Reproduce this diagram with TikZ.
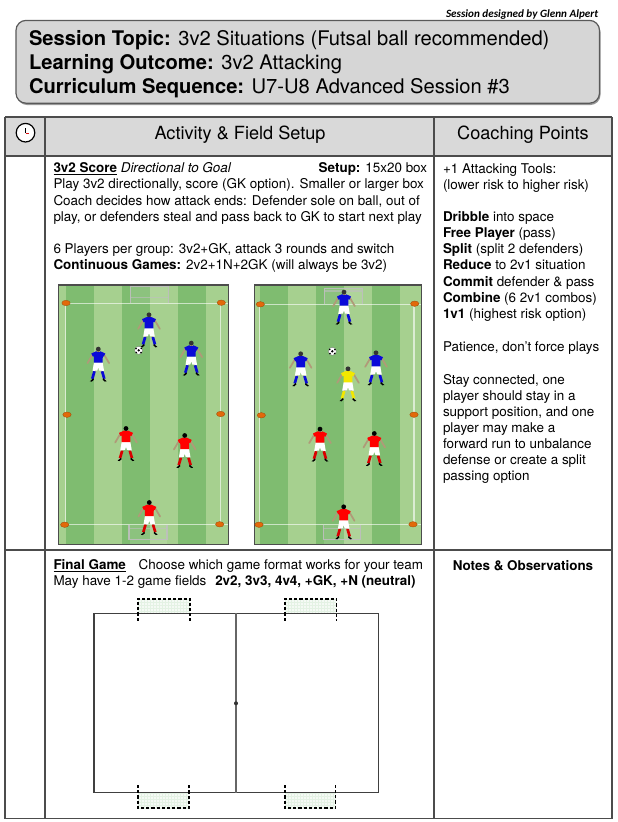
\documentclass[tikz,border=0pt]{standalone}
\usepackage{fontspec}
\setmainfont{TeX Gyre Heros}
\newfontfamily\calib{Carlito}
\definecolor{fdark}{HTML}{7FBC70}
\definecolor{flight}{HTML}{A6D08F}
\definecolor{conec}{HTML}{E2690A}
\definecolor{skin}{HTML}{B09A78}
\definecolor{hdr}{HTML}{D9D9D9}
\definecolor{tbox}{HTML}{D6D6D6}
\definecolor{rline}{HTML}{E01010}
\definecolor{bshirt}{HTML}{0A0AD8}
\definecolor{yshirt}{HTML}{F2E800}
\definecolor{netfill}{HTML}{F5FAF5}
\definecolor{netgrid}{HTML}{E4F2E4}
\newcommand\fsz[1]{\fontsize{#1}{#1}\selectfont}
\tikzset{
 tline/.style={draw=black!70,line width=.9pt},
 body/.style={anchor=base west,inner sep=0pt,outer sep=0pt,font=\fsz{10.08}},
 titletx/.style={anchor=base west,inner sep=0pt,outer sep=0pt,font=\fsz{15.12}},
 head/.style={anchor=base,inner sep=0pt,outer sep=0pt,font=\fsz{13.6}},
 fline/.style={draw=white,opacity=.6,line width=1pt},
 glines/.style={draw=black!25,line width=1pt,opacity=.9},
 fgoal/.style={draw=black,line width=1.2pt,dash pattern=on 2.4pt off 1.5pt},
}
\newcommand\cone[2]{\fill[conec,draw=conec!70!black,line width=.25pt] (#1,#2) ellipse (4.2 and 2.7);}
\newcommand\ball[2]{\begin{scope}[shift={(#1,#2)}]
 \fill[white,draw=black!60,line width=.2pt] (0,0) circle (4);
 \fill[black] (0,0) circle (1.3);
 \fill[black] (-2.6,-1.8) circle (.9) (2.6,-1.8) circle (.9) (-2.4,2.2) circle (.9) (2.4,2.2) circle (.9);
\end{scope}}
\newcommand\player[5]{\begin{scope}[shift={(#1,#2)}]
 \draw[skin,line width=1.3pt,line cap=round] (-5,4) -- (-10.8,13.8);
 \draw[skin,line width=1.3pt,line cap=round] (5,4) -- (10.8,13.8);
 \draw[skin,line width=1.2pt] (-3.5,21) -- (-4.5,24);
 \draw[skin,line width=1.2pt] (3.5,21) -- (4.5,24);
 \draw[#4,line width=2pt] (-3.8,22) -- (-6,29.5);
 \draw[#4,line width=2pt] (3.8,22) -- (6,29.5);
 \fill[black] (-8.4,32) -- (-5,29) -- (-4.4,30.5) -- (-6.5,32.3) -- cycle;
 \fill[black] (8.4,32) -- (5,29) -- (4.4,30.5) -- (6.5,32.3) -- cycle;
 \fill[white] (-4.3,13) -- (4.3,13) -- (5.8,21.7) -- (1,21.2) -- (0,18) -- (-1,21.2) -- (-5.8,21.7) -- cycle;
 \fill[#3] (-7,4.2) -- (-2.2,2) -- (2.2,2) -- (7,4.2) -- (5.4,7.4) -- (4.5,6.8) -- (4.3,13.3) -- (-4.3,13.3) -- (-4.5,6.8) -- (-5.4,7.4) -- cycle;
 \fill[skin] (-1.5,.8) rectangle (1.5,2.4);
 \fill[#5] (0,-.2) circle (2.4);
\end{scope}}
% goal in a field: x0 x1 mouth back inner-bar
\newcommand\fieldgoal[5]{%
 \fill[white,opacity=.10] (#1,#3) rectangle (#2,#4);
 \draw[glines] (#1,#3) -- (#1,#4) -- (#2,#4) -- (#2,#3);
 \draw[glines,opacity=.6] (#1,#5) -- (#2,#5);
}
\newcommand\stripes[8]{%
 \fill[flight] (#1,285) rectangle (#8,544.3);
 \fill[fdark] (#2,285) rectangle (#3,544.3);
 \fill[fdark] (#4,285) rectangle (#5,544.3);
 \fill[fdark] (#6,285) rectangle (#7,544.3);
}
% net of the final game goals: x0 y0 x1 y1
\newcommand\netbox[4]{%
 \fill[netfill] (#1,#2) rectangle (#3,#4);
 \begin{scope}
 \clip (#1,#2) rectangle (#3,#4);
 \foreach \k in {0,3,...,54} {\draw[netgrid,line width=.3pt] (#1+\k,#2) -- (#1+\k,#4);}
 \foreach \k in {0,3,...,18} {\draw[netgrid,line width=.3pt] (#1,#2+\k) -- (#3,#2+\k);}
 \end{scope}
}
\begin{document}
\begin{tikzpicture}[x=0.75pt,y=-0.75pt]
\useasboundingbox (0,0) rectangle (618,822);
\fill[white] (0,0) rectangle (618,822);
\node[anchor=base east,inner sep=0pt,font=\calib\bfseries\itshape\fsz{8.35}] (credit) at (598.5,17.3) {Session designed by Glenn Alpert};
\fill[black!40,rounded corners=7.5] (17,22) rectangle (600.5,105);
\draw[draw=black!65,fill=tbox,line width=.9pt,rounded corners=7.5] (16,20.4) rectangle (599.5,103.2);
\node[titletx] (t1) at (29,45.2) {\textbf{Session Topic:} 3v2 Situations (Futsal ball recommended)};
\node[titletx] (t2) at (29,69.2) {\textbf{Learning Outcome:} 3v2 Attacking};
\node[titletx] (t3) at (29,93.4) {\textbf{Curriculum Sequence:} U7-U8 Advanced Session \#3};
\fill[hdr] (5,117) rectangle (612,156);
\draw[tline] (5,117) -- (612,117) (5,156) -- (612,156) (5,550) -- (612,550) (5,818.5) -- (612,818.5);
\draw[tline] (5,117) -- (5,818.5) (45,117) -- (45,818.5) (434,117) -- (434,818.5) (612,117) -- (612,818.5);
\draw[black,fill=white,line width=.9pt] (25.5,132.7) circle (9.3);
\draw[black,line width=.7pt] (25.5,128) -- (25.5,133);
\draw[rline,line width=.7pt] (25.5,133) -- (29,133);
\node[head] (h1) at (240,139.3) {Activity \& Field Setup};
\node[head] (h2) at (523,139.3) {Coaching Points};
\node[body] (a1) at (53.5,172.7) {\textbf{\underline{3v2 Score}} \textit{Directional to Goal}};
\node[body] (a1b) at (318.7,172.7) {\textbf{Setup:} 15x20 box};
\node[body] (a2) at (53.5,188.9) {Play 3v2 directionally, score (GK option). Smaller or larger box};
\node[body] (a3) at (53.5,205.1) {Coach decides how attack ends: Defender sole on ball, out of};
\node[body] (a4) at (53.5,221.3) {play, or defenders steal and pass back to GK to start next play};
\node[body] (a5) at (53.5,253.7) {6 Players per group: 3v2+GK, attack 3 rounds and switch};
\node[body] (a6) at (53.5,269.9) {\textbf{Continuous Games:} 2v2+1N+2GK (will always be 3v2)};
\node[body] (c1) at (443,173.3) {+1 Attacking Tools:};
\node[body] (c2) at (443,189.3) {(lower risk to higher risk)};
\node[body] (c3) at (443,221.7) {\textbf{Dribble} into space};
\node[body] (c4) at (443,237.7) {\textbf{Free Player} (pass)};
\node[body] (c5) at (443,253.7) {\textbf{Split} (split 2 defenders)};
\node[body] (c6) at (443,269.9) {\textbf{Reduce} to 2v1 situation};
\node[body] (c7) at (443,286) {\textbf{Commit} defender \& pass};
\node[body] (c8) at (443,302) {\textbf{Combine} (6 2v1 combos)};
\node[body] (c9) at (443,318.2) {\textbf{1v1} (highest risk option)};
\node[body] (c10) at (443,351.7) {Patience, don’t force plays};
\node[body] (c11) at (443,384) {Stay connected, one};
\node[body] (c12) at (443,400) {player should stay in a};
\node[body] (c13) at (443,416) {support position, and one};
\node[body] (c14) at (443,432) {player may make a};
\node[body] (c15) at (443,448.2) {forward run to unbalance};
\node[body] (c16) at (443,464.2) {defense or create a split};
\node[body] (c17) at (443,480.2) {passing option};
\stripes{58.3}{66}{94}{122}{150.3}{178.3}{206.3}{228.7}
\fieldgoal{130.4}{168.4}{302.7}{286.7}{297.7}
\draw[fline] (66,303.3) -- (228,303.3) (65.7,303.3) -- (65.7,524.7) (220.3,303.3) -- (220.3,524.7) (65.7,524.7) -- (228,524.7);
\fill[white,opacity=.12] (129.5,539) rectangle (166.5,544);
\fieldgoal{129}{167}{524.5}{539.3}{528.3}
\draw[black!70,line width=1pt] (58.3,285) rectangle (228.7,544.3);
\cone{66}{303}\cone{221.3}{302.7}\cone{67}{414.7}\cone{220.7}{414}\cone{64.7}{524.7}\cone{219.7}{524.3}
\player{149}{315}{bshirt}{bshirt}{black!80}
\player{98.3}{349.3}{bshirt}{bshirt}{black!80}
\player{191.3}{343.3}{bshirt}{bshirt}{black!80}
\player{126}{428.7}{red}{red!85!black}{black}
\player{184.7}{435.7}{red}{red!85!black}{black}
\player{149.3}{502.7}{red}{red!85!black}{black}
\ball{138.7}{350.3}
\stripes{254.3}{260}{288}{315.7}{344}{371.7}{400}{421.7}
\fieldgoal{324.3}{362.3}{303.5}{288.3}{291}
\draw[fline] (260,304.7) -- (421,304.7) (259.7,304.7) -- (259.7,524.7) (414,304.7) -- (414,524.7) (259.7,524.7) -- (421,524.7);
\fill[white,opacity=.12] (323.5,539) rectangle (360,544);
\fieldgoal{323.3}{360.3}{524.5}{539.3}{528.3}
\draw[black!70,line width=1pt] (254.3,285) rectangle (421.7,544.3);
\cone{260.3}{304.3}\cone{414.7}{303.7}\cone{261.3}{415.3}\cone{414}{414.7}\cone{259}{524.7}\cone{413}{524.3}
\player{344}{292.3}{bshirt}{bshirt}{black!80}
\player{300.7}{354}{bshirt}{bshirt}{black!80}
\player{376}{353}{bshirt}{bshirt}{black!80}
\player{348}{369}{yshirt}{yshirt}{black!80}
\player{320}{429.3}{red}{red!85!black}{black}
\player{374.3}{433.7}{red}{red!85!black}{black}
\player{343.7}{507}{red}{red!85!black}{black}
\ball{332.3}{351.3}
\node[body] (f1) at (53.5,569.3) {\textbf{\underline{Final Game}}\hspace{.95em}Choose which game format works for your team};
\node[body] (f2) at (53.5,585.3) {May have 1-2 game fields};
\node[anchor=base west,inner sep=0pt,font=\fsz{10.08}\bfseries] (f3) at (215,585.3) {2v2, 3v3, 4v4, +GK, +N (neutral)};
\node[anchor=base,inner sep=0pt,font=\fsz{10.08}\bfseries] (n1) at (523,570) {Notes \& Observations};
\netbox{138}{599}{190}{613.3}
\netbox{285}{599}{336.3}{613.3}
\netbox{138}{792.7}{189}{808}
\netbox{285}{792.7}{335.5}{808}
\draw[black!75,line width=1.1pt] (94,613.3) rectangle (378.3,792.7);
\draw[black!60,line width=.8pt] (236,613.3) -- (236,792.7);
\fill[black!80] (236,703.3) circle (2);
\draw[fgoal] (138,620.7) -- (138,598.7) -- (190,598.7) -- (190,620.7);
\draw[fgoal] (285,620.7) -- (285,598.7) -- (336.3,598.7) -- (336.3,620.7);
\draw[fgoal] (138,785) -- (138,808) -- (189,808) -- (189,785);
\draw[fgoal] (285,785) -- (285,808) -- (335.5,808) -- (335.5,785);
\end{tikzpicture}
\end{document}
